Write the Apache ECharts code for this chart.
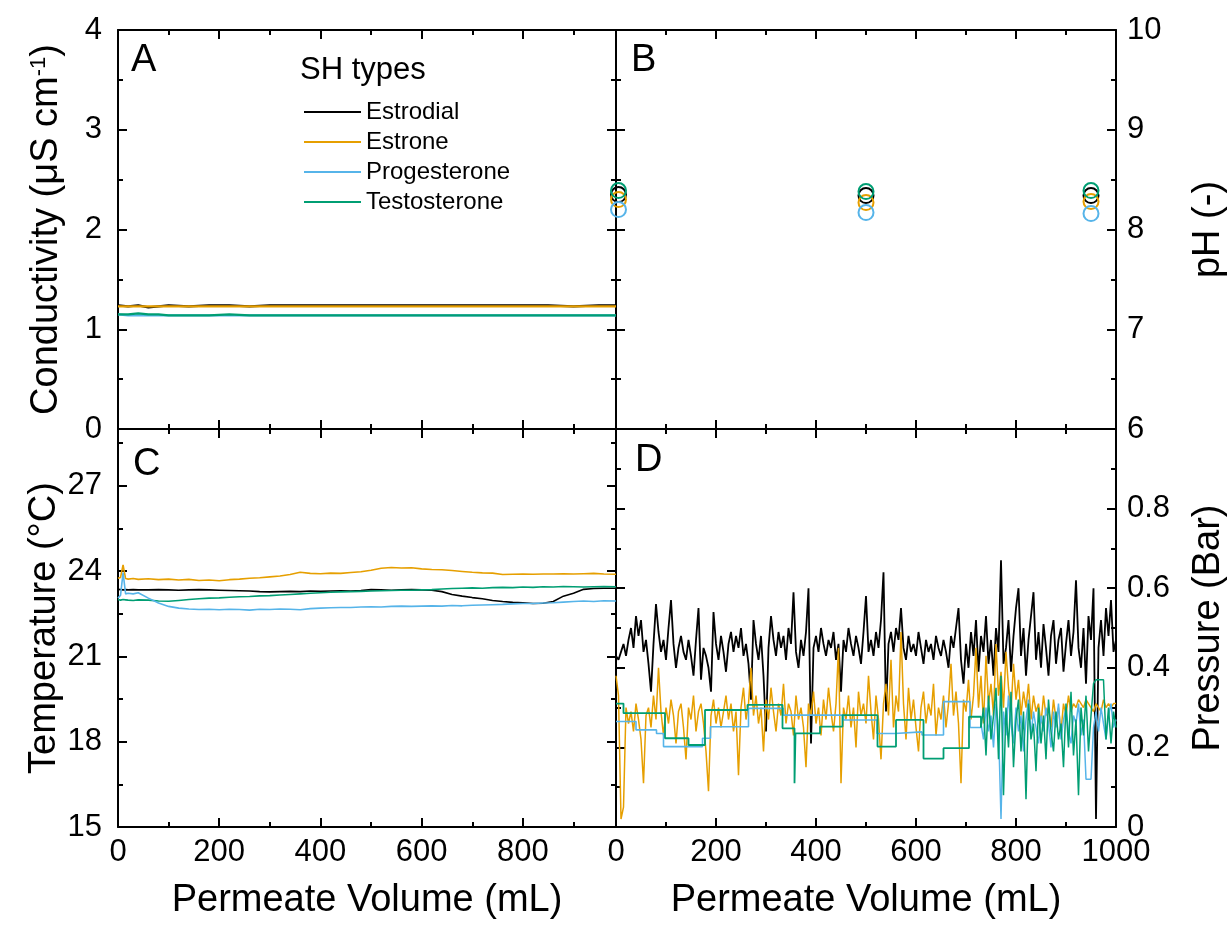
<!DOCTYPE html>
<html><head><meta charset="utf-8">
<script src="https://cdn.jsdelivr.net/npm/echarts@6/dist/echarts.min.js"></script>
<style>html,body{margin:0;padding:0;background:#fff}#c{width:1231px;height:926px}</style>
</head><body><div id="c"></div>
<script>
// ---------- DATA ----------
const seriesNames = ['Estrodial', 'Estrone', 'Progesterone', 'Testosterone'];
const seriesColors = ['#000000', '#E69F00', '#56B4E9', '#009E73'];

// Panel A: conductivity (µS/cm) vs permeate volume (mL)
const volA = [0,20,40,60,80,100,140,180,220,260,300,350,400,450,500,550,600,650,700,750,800,850,900,950,984];
const condEstrodial    = [1.24,1.23,1.24,1.22,1.23,1.24,1.23,1.24,1.24,1.23,1.24,1.24,1.24,1.24,1.24,1.24,1.24,1.24,1.24,1.24,1.24,1.24,1.23,1.24,1.24];
const condEstrone      = [1.23,1.23,1.23,1.23,1.23,1.23,1.23,1.23,1.23,1.23,1.23,1.23,1.23,1.23,1.23,1.23,1.23,1.23,1.23,1.23,1.23,1.23,1.23,1.23,1.23];
const condProgesterone = [1.15,1.14,1.14,1.14,1.14,1.14,1.14,1.14,1.14,1.14,1.14,1.14,1.14,1.14,1.14,1.14,1.14,1.14,1.14,1.14,1.14,1.14,1.14,1.14,1.14];
const condTestosterone = [1.15,1.15,1.16,1.15,1.15,1.14,1.14,1.14,1.15,1.14,1.14,1.14,1.14,1.14,1.14,1.14,1.14,1.14,1.14,1.14,1.14,1.14,1.14,1.14,1.14];

// Panel B: pH
const volPH = [5, 500, 950];
const phEstrodial    = [8.35, 8.34, 8.34];
const phEstrone      = [8.30, 8.27, 8.28];
const phProgesterone = [8.20, 8.17, 8.16];
const phTestosterone = [8.39, 8.38, 8.39];

// Panel C: temperature (°C)
const volC = [0,5,10,15,20,30,40,60,80,100,120,140,160,180,200,220,240,260,280,300,320,340,360,380,400,420,440,460,480,500,520,540,560,580,600,620,640,660,680,700,720,740,760,780,800,820,840,860,880,900,920,940,960,984];
const tempEstrodial = [23.36,23.35,23.34,23.35,23.34,23.35,23.34,23.34,23.35,23.34,23.33,23.34,23.35,23.34,23.33,23.32,23.31,23.30,23.28,23.27,23.28,23.29,23.28,23.30,23.29,23.30,23.31,23.30,23.32,23.35,23.34,23.33,23.34,23.35,23.34,23.33,23.28,23.18,23.12,23.07,23.03,22.97,22.93,22.90,22.89,22.86,22.87,22.93,23.12,23.22,23.36,23.39,23.40,23.40];
const tempEstrone = [23.75,23.78,24.22,23.74,23.72,23.74,23.71,23.73,23.70,23.72,23.69,23.71,23.67,23.69,23.66,23.70,23.72,23.75,23.77,23.80,23.83,23.88,23.96,23.92,23.91,23.93,23.92,23.95,23.98,24.03,24.10,24.13,24.11,24.12,24.08,24.06,24.05,24.02,23.99,23.96,23.94,23.93,23.88,23.89,23.90,23.89,23.90,23.90,23.91,23.90,23.91,23.92,23.90,23.89];
const tempProgesterone = [23.05,23.15,23.95,23.20,23.22,23.20,23.24,23.05,22.88,22.76,22.70,22.67,22.65,22.66,22.64,22.66,22.65,22.63,22.66,22.65,22.67,22.66,22.64,22.68,22.70,22.71,22.72,22.72,22.74,22.75,22.74,22.76,22.77,22.76,22.77,22.78,22.77,22.79,22.78,22.80,22.81,22.82,22.83,22.85,22.86,22.86,22.88,22.89,22.91,22.93,22.95,22.93,22.96,22.95];
const tempTestosterone = [23.00,22.98,23.00,22.99,22.98,22.97,22.99,22.98,22.95,22.94,22.97,23.00,23.03,23.05,23.06,23.08,23.10,23.11,23.13,23.14,23.16,23.18,23.20,23.22,23.24,23.26,23.27,23.28,23.29,23.30,23.31,23.32,23.33,23.33,23.34,23.35,23.37,23.39,23.40,23.41,23.40,23.42,23.43,23.42,23.44,23.43,23.45,23.44,23.46,23.45,23.44,23.45,23.46,23.45];

// Panel D: pressure (Bar)
const volD = [
  0,5,10,15,20,25,30,35,40,45,50,55,60,65,70,75,80,85,90,95,
  100,105,110,115,120,125,130,135,140,145,150,155,160,165,170,175,180,185,190,195,
  200,205,210,215,220,225,230,235,240,245,250,255,260,265,270,275,280,285,290,295,
  300,305,310,315,320,325,330,335,340,345,350,355,360,365,370,375,380,385,390,395,
  400,405,410,415,420,425,430,435,440,445,450,455,460,465,470,475,480,485,490,495,
  500,505,510,515,520,525,530,535,540,545,550,555,560,565,570,575,580,585,590,595,
  600,605,610,615,620,625,630,635,640,645,650,655,660,665,670,675,680,685,690,695,
  700,705,710,715,720,725,730,735,740,745,750,755,760,765,770,775,780,785,790,795,
  800,805,810,815,820,825,830,835,840,845,850,855,860,865,870,875,880,885,890,895,
  900,905,910,915,920,925,930,935,940,945,950,955,960,965,970,975,980,985,990,995,
  1000];
const pressEstrodial = [
  .43,.42,.44,.46,.43,.47,.50,.45,.53,.48,.52,.44,.47,.41,.34,.46,.56,.49,.44,.47,
  .42,.50,.57,.46,.40,.45,.48,.44,.42,.47,.43,.38,.47,.55,.37,.45,.43,.40,.34,.54,
  .46,.42,.48,.44,.39,.46,.49,.44,.48,.45,.50,.43,.46,.41,.32,.52,.46,.42,.48,.38,
  .24,.45,.53,.47,.43,.49,.45,.48,.42,.50,.46,.59,.44,.40,.47,.43,.49,.60,.21,.45,
  .48,.44,.50,.46,.43,.47,.45,.49,.42,.46,.34,.47,.44,.50,.46,.43,.48,.45,.41,.49,
  .58,.44,.47,.43,.49,.45,.52,.64,.29,.46,.49,.44,.50,.47,.55,.45,.42,.48,.44,.46,
  .43,.49,.45,.41,.47,.44,.46,.42,.48,.45,.43,.47,.44,.40,.48,.45,.50,.55,.42,.36,
  .46,.40,.49,.43,.52,.39,.48,.44,.53,.41,.47,.38,.50,.44,.67,.41,.45,.52,.39,.48,
  .55,.60,.43,.50,.38,.47,.53,.59,.42,.49,.40,.51,.45,.38,.48,.52,.41,.47,.50,.39,
  .46,.52,.43,.49,.62,.45,.40,.50,.36,.53,.47,.60,.02,.45,.52,.43,.55,.48,.57,.44,
  .47];
const pressEstrone = [
  .38,.33,.02,.05,.30,.26,.29,.24,.31,.27,.22,.11,.28,.30,.25,.33,.27,.40,.29,.23,
  .30,.26,.32,.28,.21,.29,.31,.25,.17,.30,.27,.33,.24,.29,.31,.26,.19,.09,.28,.32,
  .26,.30,.25,.29,.33,.27,.31,.24,.29,.13,.30,.35,.27,.31,.40,.28,.33,.26,.30,.19,
  .32,.27,.35,.29,.24,.31,.28,.36,.26,.31,.29,.23,.33,.27,.30,.25,.15,.31,.28,.34,
  .26,.30,.23,.32,.27,.35,.29,.24,.31,.45,.11,.30,.27,.33,.25,.30,.20,.34,.28,.31,
  .26,.38,.29,.22,.33,.27,.17,.31,.36,.28,.42,.25,.33,.29,.49,.31,.22,.35,.27,.32,
  .25,.19,.30,.34,.26,.31,.28,.36,.23,.30,.27,.33,.25,.31,.41,.28,.34,.26,.11,.32,
  .29,.37,.27,.33,.45,.30,.38,.26,.43,.31,.36,.28,.46,.33,.39,.30,.44,.35,.29,.41,
  .32,.37,.28,.34,.30,.36,.27,.33,.29,.31,.26,.33,.28,.30,.25,.32,.27,.30,.24,.31,
  .28,.33,.29,.31,.30,.32,.31,.30,.32,.31,.30,.29,.31,.30,.29,.32,.30,.31,.30,.31,
  .31];
// stepped segments (value holds from each volume to the next)
const volProgStep   = [0,40,81,95,173,189,265,335,455,522,558,612,655,708,730];
const pressProgStep = [.265,.244,.235,.202,.223,.252,.298,.281,.269,.235,.239,.231,.315,.25,.26];
const volTestoStep   = [0,15,98,145,178,263,333,357,359,408,453,523,560,615,655,706,730];
const pressTestoStep = [.31,.286,.223,.206,.294,.307,.248,.11,.235,.252,.281,.202,.269,.172,.198,.277,.25];
// noisy tail segments
const volDTail = [730,735,740,745,750,755,760,765,770,775,780,785,790,795,800,805,810,815,820,825,830,835,840,845,850,855,860,865,870,875,880,885,890,895,900,905,910,915,920,925,930,935,940,945,950,955,960,965,970,975,980,985,990,995,1000];
const pressProgTail  = [.26,.22,.30,.24,.28,.20,.31,.25,.02,.29,.23,.33,.26,.21,.30,.24,.28,.19,.27,.32,.23,.29,.25,.21,.28,.24,.30,.26,.20,.29,.25,.31,.22,.27,.30,.24,.21,.28,.26,.31,.23,.27,.12,.12,.12,.25,.29,.24,.30,.26,.22,.28,.31,.25,.27];
const pressTestoTail = [.25,.30,.18,.33,.22,.28,.35,.17,.38,.08,.30,.20,.34,.15,.27,.32,.19,.29,.07,.31,.22,.26,.14,.30,.21,.28,.17,.32,.24,.19,.29,.22,.26,.15,.31,.20,.34,.18,.27,.08,.30,.23,.33,.19,.28,.36,.37,.37,.37,.37,.22,.30,.21,.29,.25];

// ---------- CHART ----------
const FONT = '"Liberation Sans", Arial, Helvetica, sans-serif';
const pairs = (xs, ys) => xs.map((x, i) => [x, ys[i]]);
const plainNum = v => String(+v.toFixed(6));

const xAxes = [], yAxes = [];
function addAxis(list, grid, pos, min, max, major, minor, label, extra) {
  const idx = list.length;
  const base = { type: 'value', gridIndex: grid, position: pos, min: min, max: max, splitLine: { show: false } };
  list.push(Object.assign({}, base, {
    interval: major,
    axisLine: { show: true, onZero: false, lineStyle: { color: '#000', width: 2 } },
    axisTick: { show: true, inside: true, length: 9, lineStyle: { color: '#000', width: 2 } },
    axisLabel: label ? Object.assign({ show: true, color: '#000', fontFamily: FONT, fontSize: 31, formatter: plainNum }, label) : { show: false }
  }, extra || {}));
  list.push(Object.assign({}, base, {
    interval: minor,
    axisLine: { show: false, onZero: false },
    axisTick: { show: true, inside: true, length: 5, lineStyle: { color: '#000', width: 2 } },
    axisLabel: { show: false }
  }));
  return idx;
}
const titleStyle = { fontSize: 38, color: '#000', fontFamily: FONT };
const xName = { name: 'Permeate Volume (mL)', nameLocation: 'middle', nameGap: 55, nameTextStyle: titleStyle };

// grid 0 (A)
const xA = addAxis(xAxes, 0, 'bottom', 0, 984, 200, 100, null);
addAxis(xAxes, 0, 'top', 0, 984, 200, 100, null);
const yA = addAxis(yAxes, 0, 'left', 0, 4, 1, 0.5, { margin: 16 }, {
  name: '{t|Conductivity (μS cm}{s|-1}{t|)}', nameLocation: 'middle', nameGap: 52, nameRotate: 90,
  nameTextStyle: Object.assign({}, titleStyle, { rich: {
    t: { fontSize: 38, color: '#000', fontFamily: FONT },
    s: { fontSize: 22, color: '#000', fontFamily: FONT, verticalAlign: 'top' } } })
});
addAxis(yAxes, 0, 'right', 0, 4, 1, 0.5, null);
// grid 1 (B)
const xB = addAxis(xAxes, 1, 'bottom', 0, 1000, 200, 100, null);
addAxis(xAxes, 1, 'top', 0, 1000, 200, 100, null);
addAxis(yAxes, 1, 'left', 6, 10, 1, 0.5, null);
const yB = addAxis(yAxes, 1, 'right', 6, 10, 1, 0.5, { margin: 11 }, {
  name: 'pH (-)', nameLocation: 'middle', nameGap: 74, nameRotate: 90, nameTextStyle: titleStyle
});
// grid 2 (C)
const xC = addAxis(xAxes, 2, 'bottom', 0, 984, 200, 100, { margin: 10, showMaxLabel: false }, xName);
addAxis(xAxes, 2, 'top', 0, 984, 200, 100, null);
const yC = addAxis(yAxes, 2, 'left', 15, 29, 3, 1.5, { margin: 16, showMaxLabel: false }, {
  name: 'Temperature (°C)', nameLocation: 'middle', nameGap: 52, nameRotate: 90, nameTextStyle: titleStyle
});
addAxis(yAxes, 2, 'right', 15, 29, 3, 1.5, null);
// grid 3 (D)
const xD = addAxis(xAxes, 3, 'bottom', 0, 1000, 200, 100, { margin: 10 }, xName);
addAxis(xAxes, 3, 'top', 0, 1000, 200, 100, null);
addAxis(yAxes, 3, 'left', 0, 1, 0.2, 0.1, null);
const yD = addAxis(yAxes, 3, 'right', 0, 1, 0.2, 0.1, { margin: 11, showMaxLabel: false }, {
  name: 'Pressure (Bar)', nameLocation: 'middle', nameGap: 74, nameRotate: 90, nameTextStyle: titleStyle
});

function line(name, ci, xi, yi, data, width, extra) {
  return Object.assign({
    type: 'line', name: name, xAxisIndex: xi, yAxisIndex: yi, data: data,
    showSymbol: false, symbol: 'none', animation: false,
    color: seriesColors[ci], lineStyle: { color: seriesColors[ci], width: width }, z: 3
  }, extra || {});
}
const series = [
  line(seriesNames[0], 0, xA, yA, pairs(volA, condEstrodial), 2.2),
  line(seriesNames[1], 1, xA, yA, pairs(volA, condEstrone), 2.2),
  line(seriesNames[2], 2, xA, yA, pairs(volA, condProgesterone), 2.2),
  line(seriesNames[3], 3, xA, yA, pairs(volA, condTestosterone), 2.2),
];
[phEstrodial, phEstrone, phProgesterone, phTestosterone].forEach((arr, i) => {
  series.push({
    type: 'scatter', name: seriesNames[i], xAxisIndex: xB, yAxisIndex: yB,
    data: pairs(volPH, arr), symbol: 'circle', symbolSize: 15, animation: false,
    color: seriesColors[i],
    itemStyle: { color: 'rgba(255,255,255,0)', borderColor: seriesColors[i], borderWidth: 2, opacity: 1 }, z: 3
  });
});
series.push(
  line(seriesNames[0], 0, xC, yC, pairs(volC, tempEstrodial), 1.6),
  line(seriesNames[1], 1, xC, yC, pairs(volC, tempEstrone), 1.6),
  line(seriesNames[3], 3, xC, yC, pairs(volC, tempTestosterone), 1.6),
  line(seriesNames[2], 2, xC, yC, pairs(volC, tempProgesterone), 1.6),
  line(seriesNames[0], 0, xD, yD, pairs(volD, pressEstrodial), 1.8),
  line(seriesNames[1], 1, xD, yD, pairs(volD, pressEstrone), 1.5),
  line(seriesNames[2], 2, xD, yD, pairs(volProgStep, pressProgStep), 1.6, { step: 'end' }),
  line(seriesNames[2], 2, xD, yD, pairs(volDTail, pressProgTail), 1.5),
  line(seriesNames[3], 3, xD, yD, pairs(volTestoStep, pressTestoStep), 1.8, { step: 'end' }),
  line(seriesNames[3], 3, xD, yD, pairs(volDTail, pressTestoTail), 1.5)
);

const chart = echarts.init(document.getElementById('c'), null, { renderer: 'canvas' });
chart.setOption({
  backgroundColor: '#fff',
  animation: false,
  color: seriesColors,
  grid: [
    { left: 118, top: 30, width: 498, height: 399, containLabel: false, outerBoundsMode: 'none' },
    { left: 616, top: 30, width: 500, height: 399, containLabel: false, outerBoundsMode: 'none' },
    { left: 118, top: 429, width: 498, height: 398, containLabel: false, outerBoundsMode: 'none' },
    { left: 616, top: 429, width: 500, height: 398, containLabel: false, outerBoundsMode: 'none' }
  ],
  xAxis: xAxes,
  yAxis: yAxes,
  legend: {
    orient: 'vertical', left: 299, top: 95, icon: 'rect', itemWidth: 57, itemHeight: 2, itemGap: 6,
    data: seriesNames, selectedMode: false,
    textStyle: { fontSize: 24, fontFamily: FONT, color: '#000', lineHeight: 24 }
  },
  graphic: [
    { type: 'text', left: 300, top: 55, style: { text: 'SH types', font: '31px ' + FONT, fill: '#000' } },
    { type: 'text', left: 131, top: 42, style: { text: 'A', font: '38px ' + FONT, fill: '#000' } },
    { type: 'text', left: 631, top: 42, style: { text: 'B', font: '38px ' + FONT, fill: '#000' } },
    { type: 'text', left: 133, top: 446, style: { text: 'C', font: '38px ' + FONT, fill: '#000' } },
    { type: 'text', left: 635, top: 442, style: { text: 'D', font: '38px ' + FONT, fill: '#000' } }
  ],
  series: series
});
</script></body></html>
